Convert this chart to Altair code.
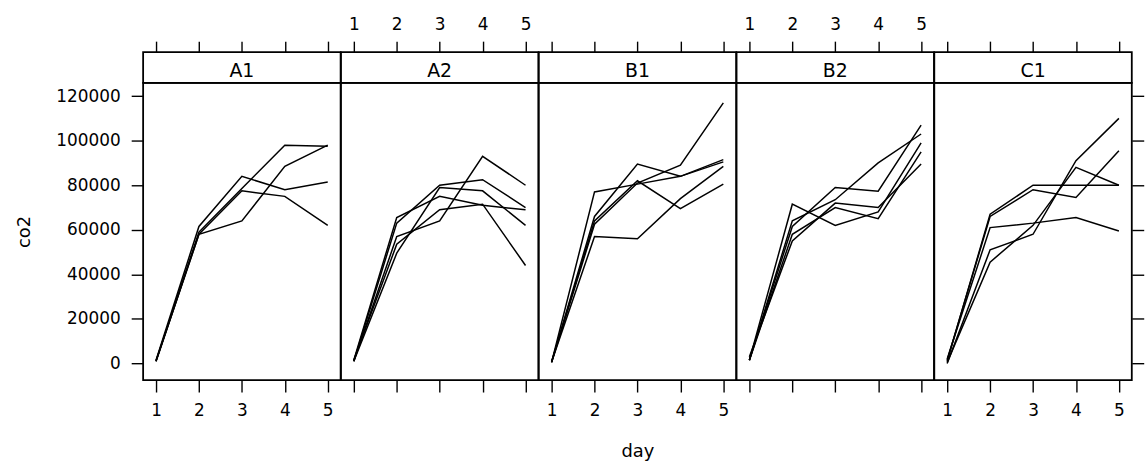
import altair as alt
import pandas as pd

days = [1, 2, 3, 4, 5]
panels = ["A1", "A2", "B1", "B2", "C1"]
y_ticks = [0, 20000, 40000, 60000, 80000, 100000, 120000]

A1 = [
    [1000, 58000, 64000, 88500, 98000],
    [1000, 59000, 78500, 98000, 97500],
    [1500, 61500, 84000, 78000, 81500],
    [1000, 58000, 77500, 75000, 62000],
]
A2 = [
    [1000, 57000, 64000, 93000, 80000],
    [1500, 65500, 75000, 71000, 69000],
    [1000, 63000, 80000, 82500, 70000],
    [1000, 49500, 79000, 77500, 62000],
    [1500, 53500, 69000, 71500, 44000],
]
B1 = [
    [500, 77000, 80500, 84000, 91500],
    [600, 66000, 89500, 84000, 90500],
    [500, 62500, 81000, 89000, 117000],
    [800, 64000, 82000, 69500, 80500],
    [700, 57000, 56000, 74000, 88500],
]
B2 = [
    [1500, 71500, 62000, 68000, 99000],
    [1500, 64000, 73500, 90000, 103000],
    [1500, 61500, 79000, 77300, 107000],
    [1500, 58000, 70000, 65000, 95000],
    [3000, 55000, 72000, 70000, 89500],
]
C1 = [
    [1000, 67000, 80000, 80000, 80000],
    [1500, 66000, 78000, 74500, 95500],
    [2000, 61000, 63000, 65500, 59500],
    [0, 51000, 58000, 91000, 110000],
    [500, 45500, 62000, 88000, 80000],
]

series_by_panel = {"A1": A1, "A2": A2, "B1": B1, "B2": B2, "C1": C1}

rows = []
for p in panels:
    for s, vals in enumerate(series_by_panel[p]):
        for d, v in zip(days, vals):
            rows.append({"panel": p, "series": s, "day": d, "co2": v})
df = pd.DataFrame(rows)

FONT = "DejaVu Sans"
W = 198.7
H = 299
SH = 31

xscale = alt.Scale(domain=[0.7, 5.3], nice=False, zero=False)
yscale = alt.Scale(domain=[-7450, 125930], nice=False, zero=False)

strips = []
plots = []
for i, name in enumerate(panels):
    sub = df[df.panel == name]
    top_axis = alt.Axis(orient="top", values=days, labels=(i % 2 == 1), ticks=True,
                        tickSize=11, labelPadding=8, domain=False, grid=False, title=None)
    base = alt.Chart(sub).mark_point(opacity=0).encode(
        x=alt.X("day:Q", scale=xscale, axis=top_axis)
    )
    txt = alt.Chart(pd.DataFrame({"label": [name]})).mark_text(
        font=FONT, fontSize=19, baseline="alphabetic", color="black"
    ).encode(text="label:N", x=alt.value(W / 2), y=alt.value(25))
    strips.append(alt.layer(base, txt).properties(width=W, height=SH))

    if i == 2:
        bottom_axis = alt.Axis(orient="bottom", values=days, labels=True, tickSize=12,
                               labelPadding=11, domain=False, grid=False, title="day",
                               titlePadding=24)
    else:
        bottom_axis = alt.Axis(orient="bottom", values=days, labels=(i % 2 == 0),
                               tickSize=12, labelPadding=11, domain=False, grid=False,
                               title=None)
    if i == 0:
        yax = alt.Axis(orient="left", values=y_ticks, format="d", tickSize=12,
                       labelPadding=11, domain=False, grid=False, title="co2",
                       titlePadding=22)
        yenc = alt.Y("co2:Q", scale=yscale, axis=yax)
    elif i == 4:
        yax = alt.Axis(orient="right", values=y_ticks, labels=False, tickSize=12,
                       domain=False, grid=False, title=None)
        yenc = alt.Y("co2:Q", scale=yscale, axis=yax)
    else:
        yenc = alt.Y("co2:Q", scale=yscale, axis=None)

    plots.append(
        alt.Chart(sub).mark_line(color="black", strokeWidth=1.5).encode(
            x=alt.X("day:Q", scale=xscale, axis=bottom_axis),
            y=yenc,
            detail="series:N",
        ).properties(width=W, height=H)
    )

chart = alt.concat(
    *strips, *plots, columns=5, spacing=0, bounds="flush", align="each"
).properties(
    padding={"left": 15, "top": 13, "right": 0, "bottom": 0},
    background="white",
).configure_view(
    stroke="black", strokeWidth=1.8
).configure_axis(
    labelFont=FONT, labelFontSize=17, titleFont=FONT, titleFontSize=18,
    titleFontWeight="normal", tickColor="black", labelColor="black",
    titleColor="black", tickWidth=1.4
)

chart.save("out.html", embed_options={"renderer": "svg", "actions": False})
